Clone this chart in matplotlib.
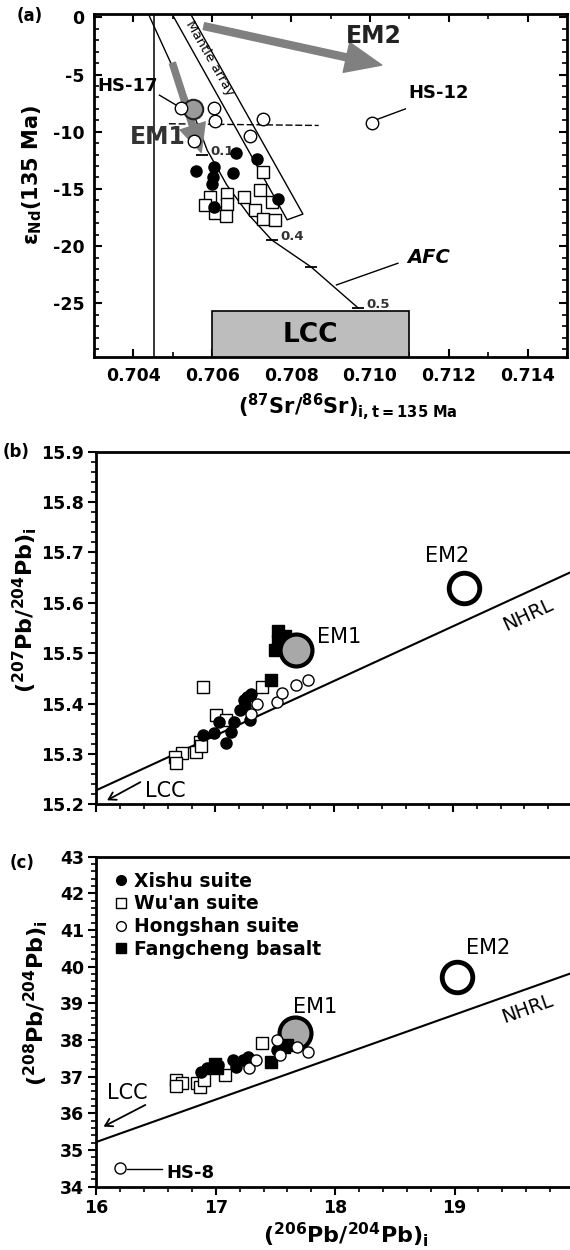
import math
import matplotlib
matplotlib.use('Agg')
import matplotlib.pyplot as plt
from matplotlib.ticker import MultipleLocator, FixedLocator
from matplotlib.lines import Line2D

plt.rcParams['font.family'] = ['DejaVu Sans']
plt.rcParams['font.weight'] = 'bold'
plt.rcParams['mathtext.fontset'] = 'dejavusans'
plt.rcParams['mathtext.default'] = 'bf'
plt.rcParams['axes.unicode_minus'] = False

# ---------------- panel (a): Sr-Nd ----------------
hong_a_sr = [0.70520, 0.70604, 0.70608, 0.70728, 0.70696, 0.70554]
hong_a_nd = [-7.9, -7.9, -9.05, -8.85, -10.4, -10.8]
hs12_sr, hs12_nd = 0.71006, -9.2
xishu_a_sr = [0.70661, 0.70713, 0.70559, 0.70604, 0.70652, 0.70602, 0.70599, 0.70768, 0.70605]
xishu_a_nd = [-11.9, -12.4, -13.4, -13.1, -13.6, -14.0, -14.55, -15.9, -16.6]
wuan_a_sr = [0.70728, 0.70595, 0.70637, 0.70680, 0.70722, 0.70581, 0.70606,
             0.70637, 0.70634, 0.70751, 0.70709, 0.70730, 0.70760]
wuan_a_nd = [-13.5, -15.7, -15.4, -15.7, -15.1, -16.4, -17.1,
             -16.35, -17.4, -16.1, -16.8, -17.6, -17.7]
em1_a = (0.70550, -8.0)

afc_x = [0.70438, 0.70503, 0.70549, 0.70587, 0.70637, 0.70693, 0.70751, 0.70851, 0.70970]
afc_y = [0.3, -4.6, -8.1, -11.6, -14.66, -17.28, -19.47, -21.83, -25.41]
afc_tick_x = [0.70574, 0.70751, 0.70851, 0.70970]
afc_tick_y = [-12.0, -19.47, -21.83, -25.45]
afc_tick_lbl = ['0.1', '0.4', '', '0.5']

mantle_x = [0.70498, 0.70790, 0.70830, 0.70545]
mantle_y = [0.3, -17.7, -17.2, 0.3]

lcc_a = (0.7060, 0.7110, -25.7)   # x0, x1, top
vline_sr = 0.70453

# ---------------- panel (b): 207Pb/204Pb ----------------
fang_b_x = [17.53, 17.59, 17.53, 17.50, 17.55, 17.47]
fang_b_y = [15.545, 15.535, 15.525, 15.506, 15.513, 15.447]
wuan_b_x = [16.90, 17.39, 17.01, 17.09, 16.87, 16.84, 16.72, 16.66, 16.67, 16.88]
wuan_b_y = [15.433, 15.433, 15.377, 15.367, 15.324, 15.304, 15.301, 15.294, 15.281, 15.315]
xishu_b_x = [16.90, 17.03, 16.99, 17.09, 17.13, 17.16, 17.21, 17.24, 17.27, 17.30, 17.29, 17.25]
xishu_b_y = [15.337, 15.364, 15.341, 15.321, 15.344, 15.364, 15.387, 15.407, 15.414, 15.418, 15.367, 15.395]
hong_b_x = [17.35, 17.30, 17.52, 17.56, 17.68, 17.78]
hong_b_y = [15.400, 15.380, 15.404, 15.420, 15.437, 15.447]
em1_b = (17.68, 15.506)
em2_b = (19.09, 15.629)
nhrl_b_x = [16.0, 20.0]
nhrl_b_y = [15.228, 15.662]

# ---------------- panel (c): 208Pb/204Pb ----------------
wuan_c_x = [16.67, 16.72, 16.67, 16.84, 16.87, 16.90, 17.08, 17.39]
wuan_c_y = [36.91, 36.82, 36.76, 36.82, 36.73, 36.91, 37.05, 37.91]
xishu_c_x = [16.88, 16.93, 17.02, 17.14, 17.23, 17.27, 17.17, 17.51]
xishu_c_y = [37.14, 37.23, 37.32, 37.45, 37.45, 37.55, 37.27, 37.73]
fang_c_x = [16.99, 17.01, 17.46, 17.57, 17.60]
fang_c_y = [37.36, 37.23, 37.41, 37.82, 37.86]
hong_c_x = [17.28, 17.34, 17.51, 17.54, 17.68, 17.77]
hong_c_y = [37.23, 37.45, 38.00, 37.59, 37.82, 37.68]
hs8 = (16.20, 34.5)
em1_c = (17.66, 38.18)
em2_c = (19.02, 39.73)
nhrl_c_x = [16.0, 20.0]
nhrl_c_y = [35.22, 39.85]
pb206_ticks = [16, 17, 18, 19]

W, H = 570, 1250
fig = plt.figure(figsize=(W / 100, H / 100), dpi=100)


def px_axes(l, r, t, b):
    return fig.add_axes([l / W, 1 - b / H, (r - l) / W, (b - t) / H])


def style_spines(ax):
    for s in ax.spines.values():
        s.set_linewidth(2.0)


# ======== (a) ========
ax = px_axes(94, 567, 14, 357)
ax.set_xlim(0.703, 0.715)
ax.set_ylim(-29.7, 0.3)
style_spines(ax)
ax.xaxis.set_major_locator(MultipleLocator(0.002))
ax.xaxis.set_minor_locator(MultipleLocator(0.001))
ax.yaxis.set_major_locator(MultipleLocator(5))
ax.yaxis.set_minor_locator(MultipleLocator(1))
ax.xaxis.set_major_formatter(plt.FuncFormatter(lambda v, p: '%.3f' % v))
ax.tick_params(which='both', direction='in', top=True, right=True, labelsize=12.5, pad=7)
ax.tick_params(which='major', length=6, width=1.5)
ax.tick_params(which='minor', length=3.5, width=1.2)

ax.axvline(vline_sr, color='k', lw=1.1)
ax.add_patch(plt.Rectangle((lcc_a[0], -40), lcc_a[1] - lcc_a[0], lcc_a[2] + 40,
                           facecolor='#bdbdbd', edgecolor='k', lw=1.2, zorder=2))
ax.text((lcc_a[0] + lcc_a[1]) / 2, -27.8, 'LCC', fontsize=19, ha='center', va='center')

ax.plot(mantle_x, mantle_y, color='k', lw=1.0)
ax.text(0.70594, -3.6, 'Mantle array', rotation=-60, fontsize=9.5, fontweight='normal',
        ha='center', va='center', rotation_mode='anchor')
ax.plot(afc_x, afc_y, color='k', lw=1.0)
ax.plot(afc_tick_x, afc_tick_y, ls='none', marker='_', ms=8, mew=1.3, color='k')
for tx, ty, tl in zip(afc_tick_x, afc_tick_y, afc_tick_lbl):
    if tl:
        ax.text(tx + 0.00022, ty + 0.3, tl, fontsize=9.5, color='#333333', va='center')
ax.plot([0.70915, 0.71071], [-23.4, -21.5], color='k', lw=1.0)
ax.text(0.71095, -21.0, 'AFC', fontsize=14, style='italic', ha='left', va='center')
ax.plot([0.7049, 0.7087], [-9.3, -9.45], color='k', lw=1.0, ls=(0, (5, 2)))

arrow_big = 'simple,head_length=26,head_width=22,tail_width=5'
ax.annotate('', xy=(0.71030, -4.17), xytext=(0.70579, -0.76),
            arrowprops=dict(arrowstyle=arrow_big, mutation_scale=1, color='#808080',
                            shrinkA=0, shrinkB=0), zorder=3)
arrow_em1 = 'simple,head_length=20,head_width=19,tail_width=4.5'
ax.annotate('', xy=(0.70572, -11.8), xytext=(0.70499, -4.0),
            arrowprops=dict(arrowstyle=arrow_em1, mutation_scale=1, color='#808080',
                            shrinkA=0, shrinkB=0), zorder=3)

ax.plot(*em1_a, marker='o', ms=14, mfc='#9a9a9a', mec='#222222', mew=1.5, zorder=4)
ax.plot(wuan_a_sr, wuan_a_nd, ls='none', marker='s', ms=8, mfc='white', mec='k', mew=1.0, zorder=5)
ax.plot(xishu_a_sr, xishu_a_nd, ls='none', marker='o', ms=8, mfc='k', mec='k', zorder=5)
ax.plot(hong_a_sr, hong_a_nd, ls='none', marker='o', ms=9, mfc='white', mec='k', mew=1.0, zorder=5)
ax.plot(hs12_sr, hs12_nd, ls='none', marker='o', ms=9, mfc='white', mec='k', mew=1.0, zorder=5)

ax.plot([0.70466, 0.70510], [-6.8, -7.7], color='k', lw=1.0)
ax.text(0.70386, -6.0, 'HS-17', fontsize=13, ha='center', va='center')
ax.plot([0.71012, 0.71090], [-9.0, -8.0], color='k', lw=1.0)
ax.text(0.71175, -6.6, 'HS-12', fontsize=13, ha='center', va='center')
ax.text(0.71010, -1.6, 'EM2', fontsize=17, ha='center', va='center', color='#222222')
ax.text(0.70462, -10.5, 'EM1', fontsize=17, ha='center', va='center', color='#333333', zorder=6)

ax.text(-0.13, 0.53, 'ε$_{Nd}$(135 Ma)', transform=ax.transAxes, rotation=90,
        fontsize=15, ha='center', va='center')
ax.text(0.537, -0.145, '($^{87}$Sr/$^{86}$Sr)$_{i,t=135\\ Ma}$', transform=ax.transAxes,
        fontsize=15, ha='center', va='center')
fig.text(30 / W, 1 - 16 / H, '(a)', fontsize=12, ha='center', va='center')


def pb_axes(ax, ylo, yhi, ymaj, ymin):
    ax.set_xlim(16, 20)
    ax.set_ylim(ylo, yhi)
    style_spines(ax)
    ax.xaxis.set_major_locator(FixedLocator(pb206_ticks))
    ax.xaxis.set_minor_locator(MultipleLocator(0.2))
    ax.yaxis.set_major_locator(MultipleLocator(ymaj))
    ax.yaxis.set_minor_locator(MultipleLocator(ymin))
    ax.tick_params(which='both', direction='out', top=False, right=False, labelsize=12.5, pad=3)
    ax.tick_params(which='major', length=6, width=1.5)
    ax.tick_params(which='minor', length=3.5, width=1.2)


def line_angle(ax, xs, ys):
    p1 = ax.transData.transform((xs[0], ys[0]))
    p2 = ax.transData.transform((xs[1], ys[1]))
    return math.degrees(math.atan2(p2[1] - p1[1], p2[0] - p1[0]))


# ======== (b) ========
ax = px_axes(96.4, 572, 451.7, 804.3)
pb_axes(ax, 15.2, 15.9, 0.1, 0.02)
ax.yaxis.set_major_formatter(plt.FuncFormatter(lambda v, p: '%.1f' % v))
ax.tick_params(axis='x', labelbottom=False)
ax.plot(nhrl_b_x, nhrl_b_y, color='k', lw=1.5)
ang = line_angle(ax, nhrl_b_x, nhrl_b_y)
ax.text(19.63, 15.576, 'NHRL', rotation=ang, fontsize=14, fontweight='normal',
        ha='center', va='center', rotation_mode='anchor')
ax.plot(wuan_b_x, wuan_b_y, ls='none', marker='s', ms=9, mfc='white', mec='k', mew=1.0, zorder=3)
ax.plot(xishu_b_x, xishu_b_y, ls='none', marker='o', ms=8, mfc='k', mec='k', zorder=3)
ax.plot(hong_b_x, hong_b_y, ls='none', marker='o', ms=8, mfc='white', mec='k', mew=1.0, zorder=3)
ax.plot(fang_b_x, fang_b_y, ls='none', marker='s', ms=8, mfc='k', mec='k', zorder=3)
ax.plot(*em1_b, marker='o', ms=23, mfc='#a8a8a8', mec='k', mew=3, zorder=4)
ax.plot(*em2_b, marker='o', ms=22, mfc='none', mec='k', mew=3.5, zorder=4)
ax.text(18.04, 15.533, 'EM1', fontsize=15, fontweight='normal', ha='center', va='center')
ax.text(18.95, 15.692, 'EM2', fontsize=15, fontweight='normal', ha='center', va='center')
ax.text(16.58, 15.226, 'LCC', fontsize=15, fontweight='normal', ha='center', va='center')
ax.annotate('', xy=(16.09, 15.208), xytext=(16.37, 15.244),
            arrowprops=dict(arrowstyle='->,head_length=0.5,head_width=0.3', lw=1.3,
                            color='k', shrinkA=0, shrinkB=0))
ax.text(-0.152, 0.55, '($^{207}$Pb/$^{204}$Pb)$_{i}$', transform=ax.transAxes, rotation=90,
        fontsize=16, ha='center', va='center')
fig.text(16 / W, 1 - 452 / H, '(b)', fontsize=12, ha='center', va='center')

# ======== (c) ========
ax = px_axes(96.4, 574, 856.7, 1186.7)
pb_axes(ax, 34, 43, 1, 0.2)
ax.plot(nhrl_c_x, nhrl_c_y, color='k', lw=1.5)
ang = line_angle(ax, nhrl_c_x, nhrl_c_y)
ax.text(19.61, 38.85, 'NHRL', rotation=ang, fontsize=14, fontweight='normal',
        ha='center', va='center', rotation_mode='anchor')
ax.plot(*em1_c, marker='o', ms=23, mfc='#a8a8a8', mec='k', mew=3, zorder=2)
ax.plot(*em2_c, marker='o', ms=22, mfc='none', mec='k', mew=3.5, zorder=2)
ax.plot(wuan_c_x, wuan_c_y, ls='none', marker='s', ms=9, mfc='white', mec='k', mew=1.0, zorder=3)
ax.plot(xishu_c_x, xishu_c_y, ls='none', marker='o', ms=8, mfc='k', mec='k', zorder=3)
ax.plot(fang_c_x, fang_c_y, ls='none', marker='s', ms=8, mfc='k', mec='k', zorder=3)
ax.plot(hong_c_x, hong_c_y, ls='none', marker='o', ms=8, mfc='white', mec='k', mew=1.0, zorder=3)
ax.plot(*hs8, marker='o', ms=8, mfc='white', mec='k', mew=1.0)
ax.plot([16.26, 16.55], [34.47, 34.47], color='k', lw=1.0)
ax.text(16.79, 34.38, 'HS-8', fontsize=13, ha='center', va='center')
ax.text(17.83, 38.91, 'EM1', fontsize=15, fontweight='normal', ha='center', va='center')
ax.text(19.28, 40.5, 'EM2', fontsize=15, fontweight='normal', ha='center', va='center')
ax.text(16.26, 36.55, 'LCC', fontsize=15, fontweight='normal', ha='center', va='center')
ax.annotate('', xy=(16.06, 35.64), xytext=(16.41, 36.23),
            arrowprops=dict(arrowstyle='->,head_length=0.5,head_width=0.3', lw=1.3,
                            color='k', shrinkA=0, shrinkB=0))

handles = [
    Line2D([], [], ls='none', marker='o', ms=7, mfc='k', mec='k'),
    Line2D([], [], ls='none', marker='s', ms=7, mfc='white', mec='k'),
    Line2D([], [], ls='none', marker='o', ms=7, mfc='white', mec='k'),
    Line2D([], [], ls='none', marker='s', ms=7, mfc='k', mec='k'),
]
labels = ['Xishu suite', "Wu'an suite", 'Hongshan suite', 'Fangcheng basalt']
ax.legend(handles, labels, loc='upper left', bbox_to_anchor=(0.0, 1.0), frameon=False,
          handletextpad=0.2, labelspacing=0.2, handlelength=1.0, borderaxespad=0.4,
          prop={'weight': 'bold', 'size': 13.5})

ax.text(-0.127, 0.557, '($^{208}$Pb/$^{204}$Pb)$_{i}$', transform=ax.transAxes, rotation=90,
        fontsize=16, ha='center', va='center')
ax.text(0.523, -0.146, '($^{206}$Pb/$^{204}$Pb)$_{i}$', transform=ax.transAxes,
        fontsize=16, ha='center', va='center')
fig.text(22 / W, 1 - 863 / H, '(c)', fontsize=12, ha='center', va='center')

fig.savefig('out.png', dpi=100)
